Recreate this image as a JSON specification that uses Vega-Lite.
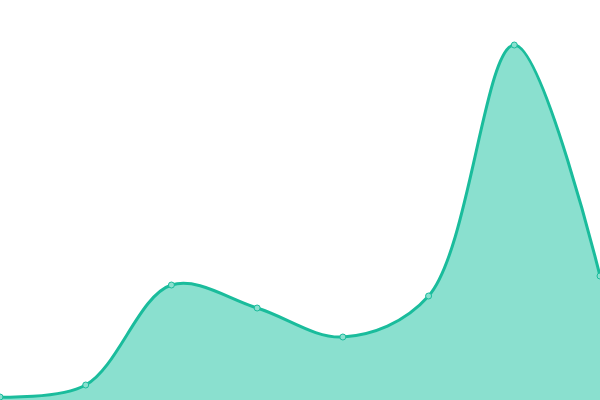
{
  "$schema": "https://vega.github.io/schema/vega-lite/v6.json",
  "width": 600,
  "height": 400,
  "padding": 0,
  "autosize": {"type": "none"},
  "background": "white",
  "config": {"view": {"stroke": null}},
  "data": {
    "values": [
      {"i": 0, "v": 3},
      {"i": 1, "v": 15},
      {"i": 2, "v": 115},
      {"i": 3, "v": 92},
      {"i": 4, "v": 63},
      {"i": 5, "v": 104},
      {"i": 6, "v": 355},
      {"i": 7, "v": 124}
    ]
  },
  "encoding": {
    "x": {"field": "i", "type": "quantitative", "scale": {"domain": [0, 7], "nice": false, "zero": false}, "axis": null},
    "y": {"field": "v", "type": "quantitative", "scale": {"domain": [0, 400], "nice": false}, "axis": null}
  },
  "layer": [
    {
      "mark": {"type": "area", "interpolate": "catmull-rom", "color": "#8ae0cf", "opacity": 1,
        "line": {"color": "#1abc9c", "strokeWidth": 3}}
    },
    {
      "mark": {"type": "point", "filled": true, "size": 36, "fill": "#8ae0cf", "stroke": "#1abc9c", "strokeWidth": 1, "opacity": 1}
    }
  ]
}
